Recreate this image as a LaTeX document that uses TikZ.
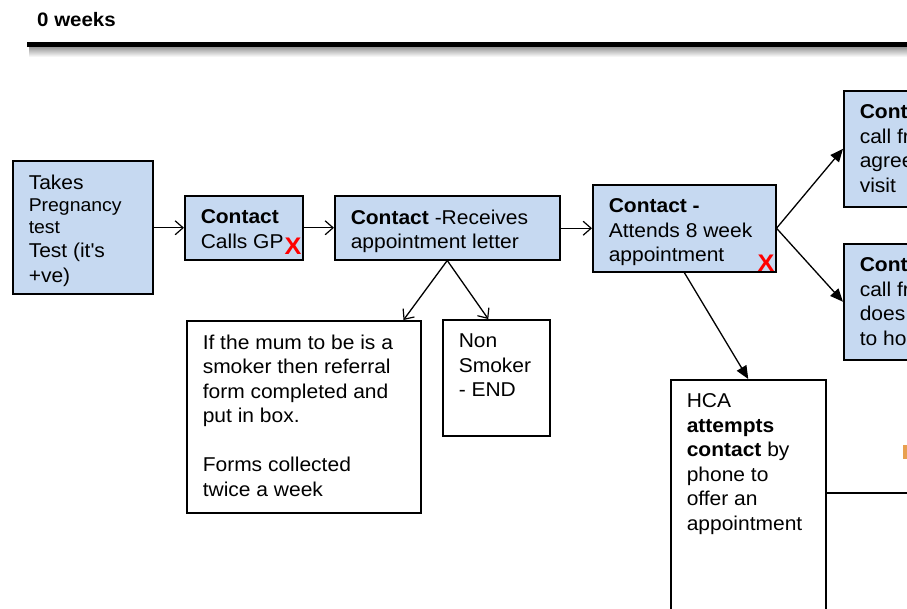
\documentclass[tikz,border=0pt]{standalone}
\usepackage{fontspec}
\setmainfont{Liberation Sans}[FakeStretch=1.05]
\usepackage{xcolor}
\usepackage{tikz}
\usetikzlibrary{calc}
\usetikzlibrary{arrows.meta}

\definecolor{stageblue}{RGB}{198,217,241}
\definecolor{noteorange}{RGB}{232,160,80}
\newcommand{\boxtext}[3]{\parbox[c][#2][t]{#1}{\raggedright #3}}

\tikzset{
    stage/.style={draw, line width=1.5pt, fill=stageblue, anchor=north west, inner xsep=16pt, inner ysep=14pt, font=\fontsize{20}{24.5}\selectfont},
    note/.style={stage, fill=white},
    barb/.style={line width=1.3pt, -{Straight Barb[length=8pt,width=14pt,line width=1.2pt]}},
    pointer/.style={line width=1.3pt, -{Triangle[length=13pt,width=11pt]}},
    miss/.style={text=red, inner sep=0pt, font=\fontsize{24}{24}\selectfont\bfseries},
}

\begin{document}
\begin{tikzpicture}[x=1pt, y=-1pt]
        \useasboundingbox (0,0) rectangle (907,608);
        \clip (0,0) rectangle (907,608);
        %JUDUL
        \node[anchor=base west, inner sep=0pt, font=\fontsize{19.5}{19.5}\selectfont\bfseries] (weeks) at (37,26) {0 weeks};
        \shade[top color=black!40, bottom color=white] (29,47) rectangle (907,57);
        \draw[line width=5pt] (27,44.5) -- (907,44.5);
        %KOTAK BIRU
        \node[stage] (test) at (12,160) {\boxtext{108pt}{105pt}{Takes\par{\fontsize{18.5}{22}\selectfont Pregnancy\par test\par}Test (it\textquotesingle s\par +ve)}};
        \node[stage] (calls) at (184,195) {\boxtext{86pt}{36pt}{\textbf{Contact}\\ Calls GP}};
        \node[stage] (receive) at (334,195) {\boxtext{193pt}{36pt}{\textbf{Contact} -Receives\\ appointment letter}};
        \node[stage] (attend) at (592,184) {\boxtext{151pt}{59pt}{\textbf{Contact -}\\ Attends 8 week\\ appointment}};
        \node[stage] (agree) at (843,90) {\boxtext{150pt}{88pt}{\textbf{Cont}\\ call fr\\ agree\\ visit}};
        \node[stage] (decline) at (843,243) {\boxtext{150pt}{88pt}{\textbf{Cont}\\ call fr\\ does\\ to ho}};
        %KOTAK PUTIH
        \node[note] (smoker) at (186,320) {\boxtext{202pt}{164pt}{If the mum to be is a\\ smoker then referral\\ form completed and\\ put in box.\\[24.5pt] Forms collected\\ twice a week}};
        \node[note] (nonsmoker) at (442,319) {\boxtext{75pt}{88pt}{Non\\ Smoker\\ - END}};
        \node[note] (hca) at (670,379) {\boxtext{123pt}{243pt}{HCA\\ \textbf{attempts}\\ \textbf{contact} by\\ phone to\\ offer an\\ appointment}};
        %TANDA X
        \node[miss] (gpx) at (293,246) {X};
        \node[miss] (attendx) at (766,263) {X};
        %PANAH
        \draw[barb] (test.east |- calls.west) -- (calls.west);
        \draw[barb] (calls.east) -- (receive.west);
        \draw[barb] (receive.east |- attend.west) -- (attend.west);
        \draw[barb] (receive.south) -- ($(smoker.north east)+(-18,0)$);
        \draw[barb] (receive.south) -- ($(nonsmoker.north)+(-8,0)$);
        \draw[pointer] (attend.east) -- (agree.west);
        \draw[pointer] (attend.east) -- (decline.west);
        \draw[pointer] (attend.south) -- (hca.north);
        %GARIS KANAN
        \coordinate (rightedge) at (907,493);
        \draw[line width=1.5pt] (hca.east |- rightedge) -- (rightedge);
        \fill[noteorange] (903,445) rectangle (907,459);
\end{tikzpicture}
\end{document}
